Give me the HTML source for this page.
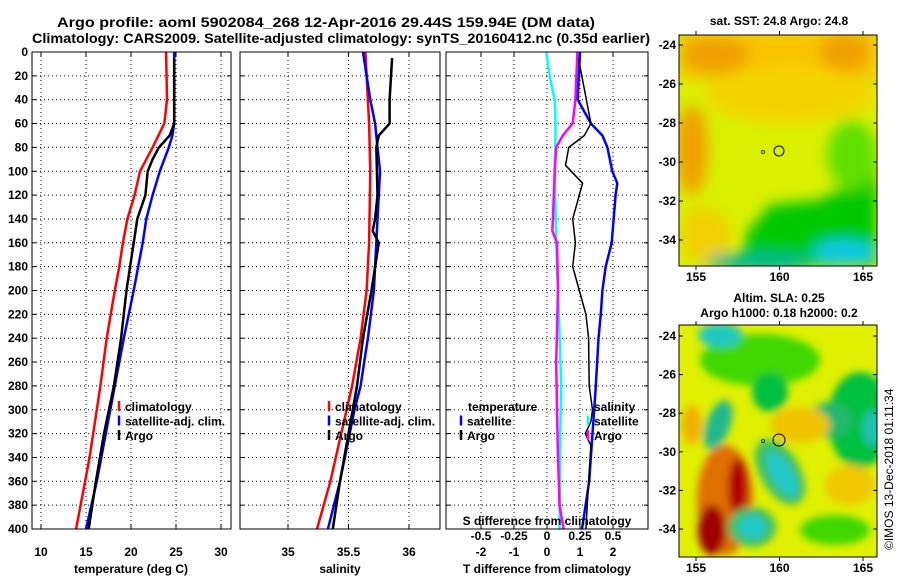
<!DOCTYPE html>
<html><head><meta charset="utf-8"><style>
body{margin:0;background:#fff;}
svg{display:block;font-family:"Liberation Sans",sans-serif;font-weight:bold;}
</style></head><body>
<svg id="c" width="900" height="580" xmlns="http://www.w3.org/2000/svg">
<defs>
<filter id="bl" x="-20%" y="-20%" width="140%" height="140%"><feGaussianBlur stdDeviation="7"/></filter>
<filter id="bl2" x="-20%" y="-20%" width="140%" height="140%"><feGaussianBlur stdDeviation="4"/></filter>
<clipPath id="m1"><rect x="679" y="35" width="198" height="231"/></clipPath>
<clipPath id="m2"><rect x="679" y="325" width="198" height="232"/></clipPath>
</defs>
<text x="326" y="27" font-size="14" text-anchor="middle" textLength="538" lengthAdjust="spacingAndGlyphs">Argo profile: aoml 5902084_268 12-Apr-2016 29.44S 159.94E (DM data)</text>
<text x="341" y="43" font-size="14" text-anchor="middle" textLength="618" lengthAdjust="spacingAndGlyphs">Climatology: CARS2009. Satellite-adjusted climatology: synTS_20160412.nc (0.35d earlier)</text>

<!-- SST map -->
<g clip-path="url(#m1)">
<rect x="679" y="35" width="198" height="231" fill="#daf000"/>
<g filter="url(#bl)">
<rect x="679" y="30" width="200" height="50" fill="#f8c400"/>
<ellipse cx="790" cy="95" rx="85" ry="28" fill="#f4d400"/>
<ellipse cx="715" cy="55" rx="35" ry="18" fill="#f0a000"/>
<ellipse cx="845" cy="52" rx="25" ry="20" fill="#f0a000"/>
<ellipse cx="692" cy="150" rx="16" ry="45" fill="#f0a000"/>
<ellipse cx="705" cy="235" rx="25" ry="28" fill="#f0d000"/>
<polygon points="770,205 820,200 877,170 877,266 745,266 745,235" fill="#00c800"/>
<ellipse cx="852" cy="155" rx="25" ry="35" fill="#60e000"/>
<ellipse cx="760" cy="262" rx="55" ry="10" fill="#00b890"/>
<ellipse cx="845" cy="252" rx="32" ry="12" fill="#10c8e8"/>
</g>
<circle cx="779" cy="151" r="5" fill="none" stroke="#000" stroke-width="1"/>
<circle cx="763" cy="152" r="1.5" fill="none" stroke="#000" stroke-width="0.8"/>
</g>
<rect x="679" y="35" width="198" height="231" fill="none" stroke="#000" stroke-width="1"/>
<text x="779" y="25" font-size="12" text-anchor="middle">sat. SST: 24.8 Argo: 24.8</text>

<!-- SLA map -->
<g clip-path="url(#m2)">
<rect x="679" y="325" width="198" height="232" fill="#e0f000"/>
<g filter="url(#bl2)">
<ellipse cx="760" cy="360" rx="60" ry="26" fill="#40d800"/>
<ellipse cx="770" cy="392" rx="18" ry="20" fill="#00c040"/>
<ellipse cx="720" cy="335" rx="22" ry="12" fill="#20c8c0"/>
<ellipse cx="860" cy="420" rx="32" ry="48" fill="#00c040"/>
<ellipse cx="872" cy="428" rx="10" ry="18" fill="#20c0b0"/>
<ellipse cx="830" cy="420" rx="22" ry="18" fill="#20b870"/>
<ellipse cx="718" cy="425" rx="12" ry="26" fill="#20b890" transform="rotate(20 718 425)"/>
<ellipse cx="692" cy="425" rx="10" ry="20" fill="#f0b000"/>
<ellipse cx="800" cy="425" rx="30" ry="18" fill="#f0c400"/>
<ellipse cx="850" cy="485" rx="25" ry="20" fill="#f0c800"/>
<ellipse cx="725" cy="500" rx="28" ry="55" fill="#e07000"/>
<ellipse cx="738" cy="488" rx="10" ry="30" fill="#b00000"/>
<ellipse cx="712" cy="530" rx="14" ry="25" fill="#a00000"/>
<ellipse cx="780" cy="472" rx="20" ry="36" fill="#40c060" transform="rotate(-30 780 472)"/>
<ellipse cx="782" cy="474" rx="11" ry="26" fill="#20c8c8" transform="rotate(-30 782 474)"/>
<ellipse cx="752" cy="527" rx="24" ry="20" fill="#40c060"/>
<ellipse cx="752" cy="527" rx="14" ry="12" fill="#20c8c8"/>
<ellipse cx="835" cy="530" rx="35" ry="15" fill="#40d800"/>
</g>
<circle cx="779" cy="440" r="6" fill="none" stroke="#000" stroke-width="1"/>
<circle cx="763" cy="441" r="1.5" fill="none" stroke="#000" stroke-width="0.8"/>
</g>
<rect x="679" y="325" width="198" height="232" fill="none" stroke="#000" stroke-width="1"/>
<text x="779" y="302" font-size="12" text-anchor="middle">Altim. SLA: 0.25</text>
<text x="779" y="317" font-size="12" text-anchor="middle">Argo h1000: 0.18 h2000: 0.2</text>
<text transform="translate(893 550) rotate(-90)" font-size="12" font-weight="normal">©IMOS 13-Dec-2018 01:11:34</text>
</svg>
<script>
const depthTicks=[0,20,40,60,80,100,120,140,160,180,200,220,240,260,280,300,320,340,360,380,400];
const tempTicks=[10,15,20,25,30];
const salTicks=[35,35.5,36];
const dTTicks=[-2,-1,0,1,2];
const dSTicks=[-0.5,-0.25,0,0.25,0.5];
const latTicks=[-24,-26,-28,-30,-32,-34];
const lonTicks=[155,160,165];
const tClimD=[0,40,60,80,100,120,140,160,180,200,240,280,300,340,360,400];
const tClimV=[23.9,24.0,23.7,22.4,21.0,20.4,19.6,19.1,18.7,18.2,17.3,16.6,16.2,15.4,14.9,13.9];
const tSatD=[0,60,70,80,100,120,140,160,200,240,280,320,360,400];
const tSatV=[24.8,24.8,24.6,24.2,23.2,22.4,21.7,21.3,20.3,19.2,18.2,17.2,16.2,15.0];
const tArgD=[5,60,70,80,90,100,120,140,160,180,200,240,280,320,360,400];
const tArgV=[24.8,24.8,24.3,23.1,22.4,21.85,21.6,20.7,20.3,19.9,19.5,18.9,18.1,17.0,16.1,15.3];
const sClimD=[0,60,100,160,200,240,280,320,360,400];
const sClimV=[35.64,35.67,35.68,35.67,35.65,35.60,35.53,35.44,35.35,35.24];
const sSatD=[0,20,40,60,80,100,120,140,160,200,240,260,280,300,320,360,400];
const sSatV=[35.62,35.65,35.68,35.72,35.74,35.76,35.75,35.74,35.73,35.71,35.66,35.63,35.60,35.55,35.51,35.43,35.33];
const sArgD=[5,40,60,70,80,120,140,150,160,200,240,280,320,360,400];
const sArgV=[35.86,35.84,35.84,35.75,35.73,35.74,35.72,35.70,35.75,35.69,35.62,35.57,35.50,35.43,35.37];
const dTSatD=[0,40,60,70,80,100,110,120,160,180,200,220,240,280,300,320,360,400];
const dTSatV=[1.0,0.93,1.33,1.68,1.83,1.98,2.13,2.08,1.96,1.78,1.68,1.63,1.56,1.48,1.43,1.38,1.28,1.06];
const dTArgD=[5,60,70,80,95,110,140,160,180,200,220,240,280,300,310,320,330,360,400];
const dTArgV=[0.95,1.33,1.13,0.66,0.56,1.08,0.78,0.86,0.78,0.98,1.18,1.26,1.28,1.38,1.33,1.16,1.33,1.26,1.18];
const dSArgD=[0,40,60,70,80,100,140,150,160,200,260,300,340,380,400];
const dSArgV=[0.23,0.215,0.195,0.12,0.07,0.058,0.045,0.04,0.076,0.083,0.07,0.076,0.083,0.095,0.126];
const dSSatD=[0,20,40,60,100,160,200,280,320,400];
const dSSatV=[-0.005,0.02,0.058,0.065,0.058,0.07,0.083,0.108,0.1,0.095];

const svg=document.getElementById('c');
const NS='http://www.w3.org/2000/svg';
function mk(tag,attrs,parent){const e=document.createElementNS(NS,tag);for(const k in attrs)e.setAttribute(k,attrs[k]);(parent||svg).appendChild(e);return e;}
const yD=d=>52+d*1.1925;
const xT=v=>41+(v-10)*9;
const xS=v=>288+(v-35)*121;
const xDT=v=>547+v*33;
const xDS=v=>547+v*132;
const panels=[{x0:32,x1:231,name:'temperature-panel'},{x0:240,x1:440,name:'salinity-panel'},{x0:446,x1:648,name:'difference-panel'}];

panels.forEach((p,i)=>{
  const g=mk('g',{});
  
  
  depthTicks.forEach(d=>{
    if(d>0&&d<400){const l=mk('line',{x1:p.x0,x2:p.x1,y1:yD(d),y2:yD(d),stroke:'#000','stroke-width':1,'stroke-dasharray':'1 3'},g);
    
    }
    mk('line',{x1:p.x0,x2:p.x0+4,y1:yD(d),y2:yD(d),stroke:'#000'},g);
    mk('line',{x1:p.x1-4,x2:p.x1,y1:yD(d),y2:yD(d),stroke:'#000'},g);
  });
  p.g=g;
});
depthTicks.forEach(d=>{
  const t=mk('text',{x:28,y:yD(d)+4,'font-size':12,'text-anchor':'end'});
  t.textContent=d;
  
  
});
function xaxis(p,ticks,fx,fmt,ly,grid){
  ticks.forEach(v=>{
    const x=fx(v);
    if(grid){const l=mk('line',{x1:x,x2:x,y1:52,y2:529,stroke:'#000','stroke-dasharray':'1 3'},p.g);
    
    }
    mk('line',{x1:x,x2:x,y1:529,y2:525,stroke:'#000'},p.g);
    mk('line',{x1:x,x2:x,y1:52,y2:56,stroke:'#000'},p.g);
    const t=mk('text',{x:x,y:ly,'font-size':12,'text-anchor':'middle'});
    t.textContent=fmt(v);
    
    
  });
}
xaxis(panels[0],tempTicks,xT,v=>v,556,true);
xaxis(panels[1],salTicks,xS,v=>v,556,true);
xaxis(panels[2],dTTicks,xDT,v=>v,556,true);
dSTicks.forEach(v=>{
  const t=mk('text',{x:xDS(v),y:540,'font-size':12,'text-anchor':'middle'});
  t.textContent=v;
  
  
});
function line(D,V,fx,color,w,name){
  const pts=D.map((d,i)=>fx(V[i]).toFixed(1)+','+yD(d).toFixed(1)).join(' ');
  const l=mk('polyline',{points:pts,fill:'none',stroke:color,'stroke-width':w,'stroke-linejoin':'round'});
  
  
}
line(tClimD,tClimV,xT,'#f00',2.5,'temp-climatology-line');
line(tSatD,tSatV,xT,'#00f',2.5,'temp-satellite-line');
line(tArgD,tArgV,xT,'#000',2.5,'temp-argo-line');
line(sClimD,sClimV,xS,'#f00',2.5,'sal-climatology-line');
line(sSatD,sSatV,xS,'#00f',2.5,'sal-satellite-line');
line(sArgD,sArgV,xS,'#000',2.5,'sal-argo-line');
line(dSSatD,dSSatV,xDS,'#0ff',2.5,'sdiff-satellite-line');
line(dSArgD,dSArgV,xDS,'#f0f',2.5,'sdiff-argo-line');
line(dTSatD,dTSatV,xDT,'#00f',2.5,'tdiff-satellite-line');
line(dTArgD,dTArgV,xDT,'#000',1.5,'tdiff-argo-line');
panels.forEach(p=>{mk('rect',{x:p.x0,y:52,width:p.x1-p.x0,height:477,fill:'none',stroke:'#000','stroke-width':1});});

function legend(x,y,items){
  items.forEach((it,i)=>{
    const yy=y+i*14.5;
    if(it[1]) mk('line',{x1:x,x2:x,y1:yy-10,y2:yy,stroke:it[1],'stroke-width':2.5});
    const t=mk('text',{x:x+(it[1]?6:0),y:yy,'font-size':12});
    t.textContent=it[0];
    
    
  });
}
legend(119,411,[['climatology','#f00'],['satellite-adj. clim.','#00f'],['Argo','#000']]);
legend(329,411,[['climatology','#f00'],['satellite-adj. clim.','#00f'],['Argo','#000']]);
legend(468,411,[['temperature',null]]);
legend(461,425.5,[['satellite','#00f'],['Argo','#000']]);
legend(594,411,[['salinity',null]]);
legend(588,425.5,[['satellite','#0ff'],['Argo','#f0f']]);

[['temperature (deg C)',131,573,'temp-axis-title'],['salinity',340,573,'sal-axis-title'],['T difference from climatology',547,573,'tdiff-axis-title'],['S difference from climatology',547,525,'sdiff-axis-title']].forEach(a=>{
  const t=mk('text',{x:a[1],y:a[2],'font-size':12,'text-anchor':'middle'});
  t.textContent=a[0];
  
  
});
// map axes
[[35,266,45],[325,557,336]].forEach(m=>{
  const [top,bot,y24]=m;
  const step=(m[0]===35)?19.5:19.3;
  latTicks.forEach(v=>{
    const y=y24+(-24-v)*step;
    mk('line',{x1:679,x2:683,y1:y,y2:y,stroke:'#000'});
    mk('line',{x1:873,x2:877,y1:y,y2:y,stroke:'#000'});
    const t=mk('text',{x:676,y:y+4,'font-size':12,'text-anchor':'end'});
    t.textContent=v;
    
    
  });
  lonTicks.forEach(v=>{
    const x=696+(v-155)*16.7;
    mk('line',{x1:x,x2:x,y1:top,y2:top-4,stroke:'#000'});
    mk('line',{x1:x,x2:x,y1:bot,y2:bot+4,stroke:'#000'});
    const t=mk('text',{x:x,y:bot+15,'font-size':12,'text-anchor':'middle'});
    t.textContent=v;
    
    
  });
});
</script>
</body></html>
